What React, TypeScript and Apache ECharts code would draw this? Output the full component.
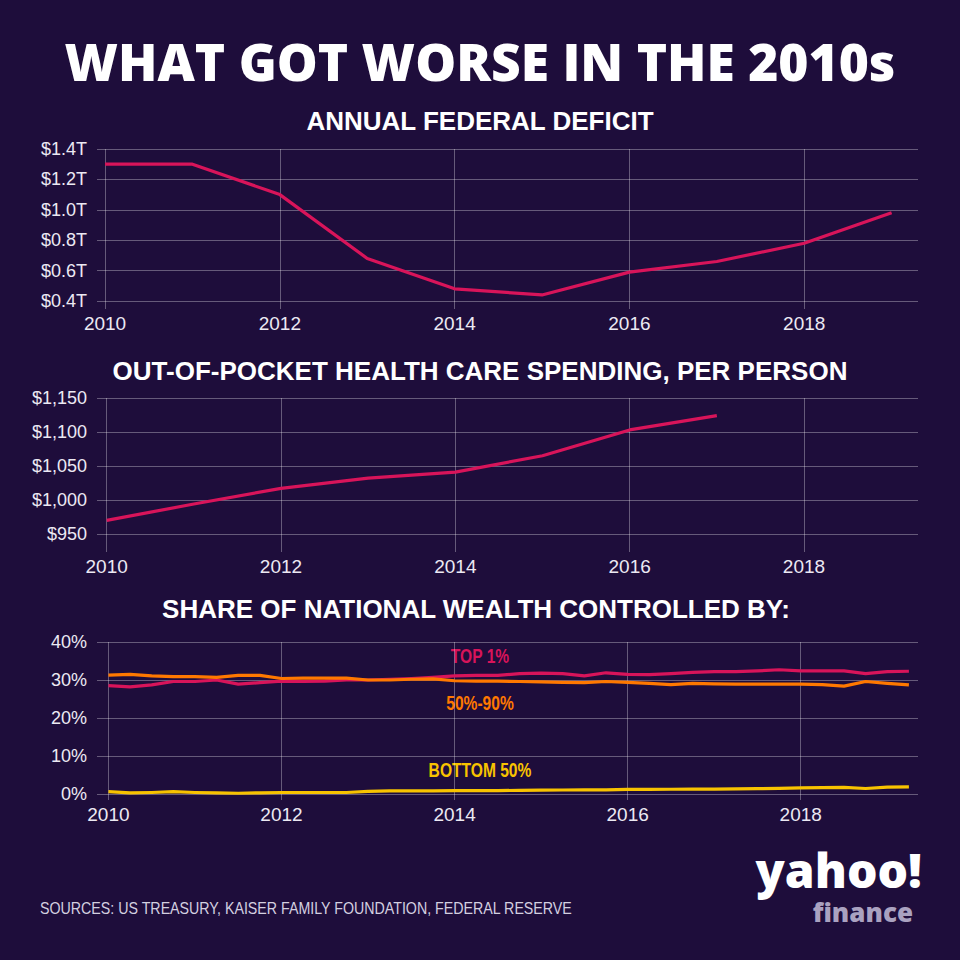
import React, { useEffect, useRef } from 'react';
import * as echarts from 'echarts';

// ---------- DATA ----------
const deficitYears = [2010, 2011, 2012, 2013, 2014, 2015, 2016, 2017, 2018, 2019];
const deficitValues = [1.30, 1.30, 1.10, 0.68, 0.48, 0.44, 0.59, 0.66, 0.78, 0.98];

const healthYears = [2010, 2011, 2012, 2013, 2014, 2015, 2016, 2017];
const healthValues = [970, 994, 1017, 1032, 1041, 1065, 1103, 1124];

const wealthQuarters = [
  2010, 2010.25, 2010.5, 2010.75, 2011, 2011.25, 2011.5, 2011.75,
  2012, 2012.25, 2012.5, 2012.75, 2013, 2013.25, 2013.5, 2013.75,
  2014, 2014.25, 2014.5, 2014.75, 2015, 2015.25, 2015.5, 2015.75,
  2016, 2016.25, 2016.5, 2016.75, 2017, 2017.25, 2017.5, 2017.75,
  2018, 2018.25, 2018.5, 2018.75, 2019, 2019.25,
];
const top1Share = [
  28.5, 28.2, 28.7, 29.6, 29.6, 30.0, 28.9, 29.3, 29.7, 29.6, 29.7, 30.0, 30.0, 30.2, 30.4, 30.7, 31.1, 31.2,
  31.2, 31.7, 31.8, 31.7, 31.1, 31.9, 31.5, 31.4, 31.7, 32.0, 32.2, 32.2, 32.4, 32.7, 32.4, 32.4, 32.4, 31.7, 32.2, 32.3,
];
const mid50to90Share = [
  31.3, 31.5, 31.1, 30.9, 30.9, 30.7, 31.2, 31.2, 30.4, 30.5, 30.5, 30.5, 30.0, 30.0, 30.2, 30.3, 29.8, 29.7,
  29.7, 29.6, 29.5, 29.4, 29.3, 29.6, 29.4, 29.1, 28.8, 29.1, 29.0, 28.9, 28.9, 28.9, 28.9, 28.8, 28.4, 29.6, 29.1, 28.7,
];
const bottom50Share = [
  0.6, 0.3, 0.4, 0.6, 0.4, 0.3, 0.2, 0.3, 0.4, 0.4, 0.4, 0.4, 0.7, 0.8, 0.8, 0.8, 0.9, 0.9,
  0.9, 0.95, 1.0, 1.05, 1.1, 1.1, 1.2, 1.2, 1.25, 1.3, 1.3, 1.35, 1.4, 1.5, 1.6, 1.7, 1.75, 1.45, 1.8, 1.9,
];

const yearTicks = [2010, 2012, 2014, 2016, 2018];
const deficitTicks = [0.4, 0.6, 0.8, 1.0, 1.2, 1.4];
const healthTicks = [950, 1000, 1050, 1100, 1150];
const wealthTicks = [0, 10, 20, 30, 40];

const mainTitle = 'WHAT GOT WORSE IN THE 2010s';
const chartTitles = [
  'ANNUAL FEDERAL DEFICIT',
  'OUT-OF-POCKET HEALTH CARE SPENDING, PER PERSON',
  'SHARE OF NATIONAL WEALTH CONTROLLED BY:',
];
const seriesNames = ['TOP 1%', '50%-90%', 'BOTTOM 50%'];
const sourceText = 'SOURCES: US TREASURY, KAISER FAMILY FOUNDATION, FEDERAL RESERVE';
const logoWords = ['yahoo!', 'finance'];

// ---------- STYLE ----------
const BG = '#1e0d3b';
const PINK = '#d8145a';
const ORANGE = '#ff7800';
const YELLOW = '#f8c300';
const GRID = 'rgba(255,255,255,0.32)';
const LABEL = '#ece9f3';
const FONT = '"Liberation Sans", Arial, sans-serif';
const HEAVY = '"Open Sans", sans-serif';

const zip = (xs: number[], ys: number[]) => xs.map((x, i) => [x, ys[i]]);

function xAxisFor(gridIndex: number, min: number, max: number) {
  return {
    type: 'value',
    gridIndex,
    min,
    max,
    axisLine: { show: false },
    axisTick: { show: false, customValues: yearTicks },
    axisLabel: {
      customValues: yearTicks,
      color: LABEL,
      fontSize: 19,
      fontFamily: FONT,
      margin: 5,
      formatter: (v: number) => String(v),
    },
    splitLine: { show: true, lineStyle: { color: GRID, width: 1 } },
  };
}

function yAxisFor(gridIndex: number, min: number, max: number, ticks: number[], fmt: (v: number) => string) {
  return {
    type: 'value',
    gridIndex,
    min,
    max,
    axisLine: { show: false },
    axisTick: { show: false, customValues: ticks },
    axisLabel: {
      customValues: ticks,
      color: LABEL,
      fontSize: 18,
      fontFamily: FONT,
      margin: 10,
      formatter: fmt,
    },
    splitLine: { show: true, lineStyle: { color: GRID, width: 1 } },
  };
}

function lineSeries(name: string, xi: number, data: number[][], color: string) {
  return {
    name,
    type: 'line',
    xAxisIndex: xi,
    yAxisIndex: xi,
    data,
    showSymbol: false,
    symbol: 'none',
    lineStyle: { color, width: 3.2, join: 'round' },
    itemStyle: { color },
    z: 3,
  };
}

function placedText(text: string, x: number, y: number, fontSize: number, color: string, font: string, weight: any, align = 'center', scaleX = 1) {
  return {
    type: 'text',
    x,
    y,
    scaleX,
    style: {
      text,
      x: 0,
      y: 0,
      fill: color,
      font: `${weight} ${fontSize}px ${font}`,
      textAlign: align,
      textVerticalAlign: 'middle',
    },
  };
}

export default function App() {
  const ref = useRef<HTMLDivElement>(null);

  useEffect(() => {
    if (!ref.current) return;
    const chart = echarts.init(ref.current, undefined, { renderer: 'svg' });

    const fmtDeficit = (v: number) => '$' + v.toFixed(1) + 'T';
    const fmtHealth = (v: number) => '$' + v.toLocaleString('en-US');
    const fmtPct = (v: number) => v + '%';

    chart.setOption({
      animation: false,
      backgroundColor: BG,
      grid: [
        { left: 97, right: 42, top: 149, height: 160 },
        { left: 97, right: 42, top: 398, height: 154 },
        { left: 97, right: 42, top: 642, height: 158 },
      ],
      xAxis: [
        xAxisFor(0, 2009.908, 2019.302),
        xAxisFor(1, 2009.889, 2019.308),
        xAxisFor(2, 2009.868, 2019.355),
      ],
      yAxis: [
        yAxisFor(0, 0.3475, 1.4, deficitTicks, fmtDeficit),
        yAxisFor(1, 923.4, 1150, healthTicks, fmtHealth),
        yAxisFor(2, -1.58, 40, wealthTicks, fmtPct),
      ],
      series: [
        lineSeries('Deficit', 0, zip(deficitYears, deficitValues), PINK),
        lineSeries('Health', 1, zip(healthYears, healthValues), PINK),
        lineSeries(seriesNames[2], 2, zip(wealthQuarters, bottom50Share), YELLOW),
        lineSeries(seriesNames[0], 2, zip(wealthQuarters, top1Share), PINK),
        lineSeries(seriesNames[1], 2, zip(wealthQuarters, mid50to90Share), ORANGE),
      ],
      graphic: [
        placedText(mainTitle, 480, 61, 51.5, '#ffffff', HEAVY, 800),
        placedText(chartTitles[0], 480, 121, 26, '#ffffff', FONT, 'bold'),
        placedText(chartTitles[1], 480, 371, 26, '#ffffff', FONT, 'bold'),
        placedText(chartTitles[2], 476, 609, 26, '#ffffff', FONT, 'bold'),
        placedText(seriesNames[0], 480, 656, 19.5, PINK, FONT, 'bold', 'center', 0.8),
        placedText(seriesNames[1], 480, 703, 19.5, ORANGE, FONT, 'bold', 'center', 0.8),
        placedText(seriesNames[2], 480, 770, 19.5, YELLOW, FONT, 'bold', 'center', 0.8),
        placedText(sourceText, 40, 908, 16, '#d4d0e0', FONT, 'normal', 'left', 0.89),
        {
          type: 'text',
          x: 922,
          y: 846.5,
          style: {
            text: `{a|${logoWords[0]}}\n{b|${logoWords[1]}}`,
            x: 0,
            y: 0,
            textAlign: 'right',
            textVerticalAlign: 'top',
            rich: {
              a: {
                fill: '#ffffff',
                fontFamily: HEAVY,
                fontWeight: 800,
                fontSize: 48,
                lineHeight: 45,
              },
              b: {
                fill: '#aaa2c0',
                fontFamily: HEAVY,
                fontWeight: 800,
                fontSize: 26,
                lineHeight: 40,
                padding: [0, 9, 0, 0],
              },
            },
          },
        },
      ],
    });

    return () => chart.dispose();
  }, []);

  return (
    <div
      ref={ref}
      style={{ position: 'fixed', left: 0, top: 0, width: 960, height: 960 }}
    />
  );
}
